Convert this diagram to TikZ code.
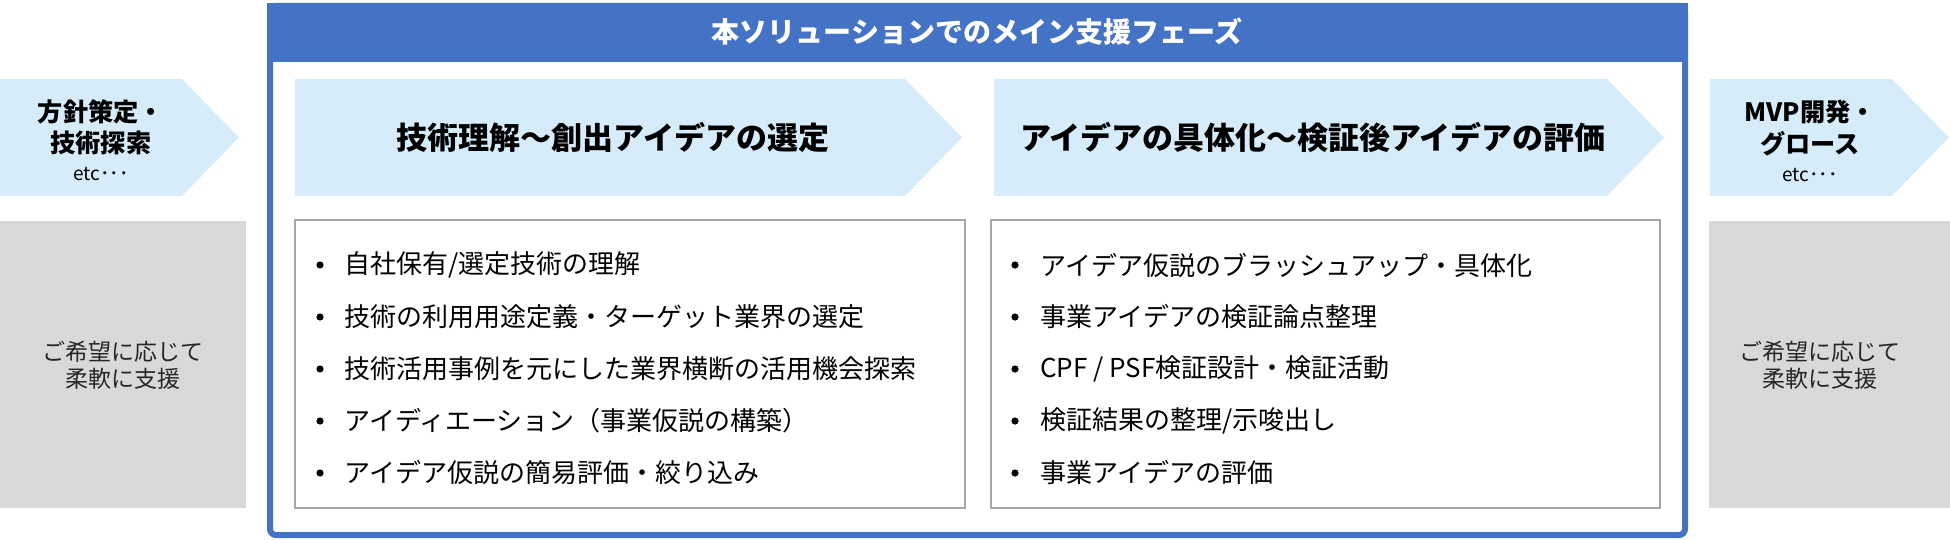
\documentclass[tikz,border=0pt]{standalone}
\usepackage{fontspec}
\setmainfont{Noto Sans CJK JP}
\usetikzlibrary{positioning}
\definecolor{mainblue}{HTML}{4472C4}
\definecolor{phaseblue}{RGB}{214,236,251}
\definecolor{optgray}{HTML}{D9D9D9}
\definecolor{boxline}{HTML}{A6A6A6}

\begin{document}
\begin{tikzpicture}[x=0.5pt,y=-0.5pt,
  phase/.style={font=\fontsize{15.5}{18}\selectfont\bfseries},
  side/.style={font=\fontsize{12.6}{15.6}\selectfont\bfseries,align=center,inner sep=0pt},
  etc/.style={font=\fontsize{9.5}{11}\selectfont,inner sep=0pt},
  hope/.style={font=\fontsize{11.5}{13.5}\selectfont,align=center,text=black!85},
  item/.style={font=\fontsize{13}{15}\selectfont,anchor=west,inner sep=0pt},
  dot/.style={circle,fill=black,inner sep=0pt,minimum size=3.6pt}]
  \useasboundingbox (0,0) rectangle (1950,540);

  % phase arrows
  \foreach \a/\b in {0/239,295/962,994/1664,1710/1949}{
    \fill[phaseblue] (\a,79) -- ({\b-57},79) -- (\b,137.5) -- ({\b-57},196) -- (\a,196) -- cycle;
  }
  % optional support
  \fill[optgray] (0,221) rectangle (246,508);
  \fill[optgray] (1709,221) rectangle (1950,508);
  \node[hope] (hopeL) at (123,365) {ご希望に応じて\\柔軟に支援};
  \node[hope] (hopeR) at (1820,365) {ご希望に応じて\\柔軟に支援};

  % main frame
  \fill[mainblue] (267,3) rectangle (1688,62);
  \draw[mainblue,line width=3pt,rounded corners=3pt] (270,6) rectangle (1685,535);
  \node[text=white,font=\fontsize{14}{16}\selectfont\bfseries] (main) at (977,32) {本ソリューションでのメイン支援フェーズ};

  % phase titles
  \node[side] (pre) at (101,127) {方針策定・\\技術探索};
  \node[etc,below=6pt of pre] (preetc) {etc･･･};
  \node[phase] (ph1) at (613,137) {技術理解～創出アイデアの選定};
  \node[phase] (ph2) at (1313,137) {アイデアの具体化～検証後アイデアの評価};
  \node[side] (post) at (1810,128) {MVP開発・\\グロース};
  \node[etc,below=6pt of post] (postetc) {etc･･･};

  % task lists
  \draw[boxline,line width=0.75pt] (295,220) rectangle (965,508);
  \draw[boxline,line width=0.75pt] (991,220) rectangle (1660,508);
  \foreach \t [count=\i] in {自社保有/選定技術の理解,技術の利用用途定義・ターゲット業界の選定,技術活用事例を元にした業界横断の活用機会探索,アイディエーション（事業仮説の構築）,アイデア仮説の簡易評価・絞り込み}{
    \node[dot] (ba\i) at (320,{213+52*\i}) {};
    \node[item] (la\i) at (344,{213+52*\i}) {\t};
  }
  \foreach \t [count=\i] in {アイデア仮説のブラッシュアップ・具体化,事業アイデアの検証論点整理,CPF / PSF検証設計・検証活動,検証結果の整理/示唆出し,事業アイデアの評価}{
    \node[dot] (bb\i) at (1015,{213+52*\i}) {};
    \node[item] (lb\i) at (1040,{213+52*\i}) {\t};
  }
\end{tikzpicture}
\end{document}
